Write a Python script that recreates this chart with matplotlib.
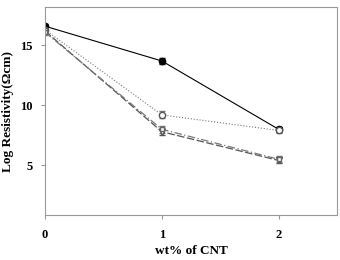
import matplotlib
matplotlib.use("Agg")
import matplotlib.pyplot as plt

x = [0, 1, 2]
s1 = [16.6, 13.7, 8.0]
s2 = [16.3, 9.2, 7.9]
s3 = [16.2, 7.8, 5.4]
s4 = [16.1, 8.0, 5.5]
e1 = [0.2, 0.25, 0.2]
e2 = [0.2, 0.3, 0.2]
e3 = [0.2, 0.3, 0.25]
e4 = [0.2, 0.3, 0.25]

plt.rcParams['font.family'] = ['Liberation Serif', 'DejaVu Serif']
fig = plt.figure(figsize=(3.4, 2.6), dpi=100)
ax = fig.add_axes([45/340, 45/260, 292/340, 208/260])

ax.errorbar(x, s1, yerr=e1, color='black', lw=0.8, marker='o', ms=4.5,
            mfc='black', mec='black', capsize=2, elinewidth=0.6, ls='-')
ax.errorbar(x, s2, yerr=e2, color='#777777', lw=0.8, marker='o', ms=4.5,
            mfc='white', mec='#555555', capsize=2, elinewidth=0.6, ls=':')
ax.errorbar(x, s3, yerr=e3, color='#555555', lw=0.9, marker='v', ms=4.5,
            mfc='white', mec='#555555', capsize=2, elinewidth=0.6, ls=(0, (6, 2)))
ax.errorbar(x, s4, yerr=e4, color='#777777', lw=0.9, marker='s', ms=3.5,
            mfc='white', mec='#666666', capsize=2, elinewidth=0.6, ls=(0, (6, 2, 1, 2)))

ax.set_xlim(0, 2.5)
ax.set_ylim(0.85, 18.2)
ax.set_xticks([0, 1, 2])
ax.set_yticks([5, 10, 15])
for sp in ax.spines.values():
    sp.set_color('#999999')
ax.tick_params(direction='out', length=3, color='#999999', labelsize=9)
ax.tick_params(axis='x', pad=7)
ax.tick_params(axis='y', pad=6)
for lab in ax.get_xticklabels() + ax.get_yticklabels():
    lab.set_fontweight('bold')
ax.set_xlabel('wt% of CNT', fontweight='bold', fontsize=9.5, labelpad=3)
ax.set_ylabel('Log Resistivity(Ωcm)', fontweight='bold', fontsize=9.5, labelpad=4)

fig.savefig('out.png', dpi=100)
